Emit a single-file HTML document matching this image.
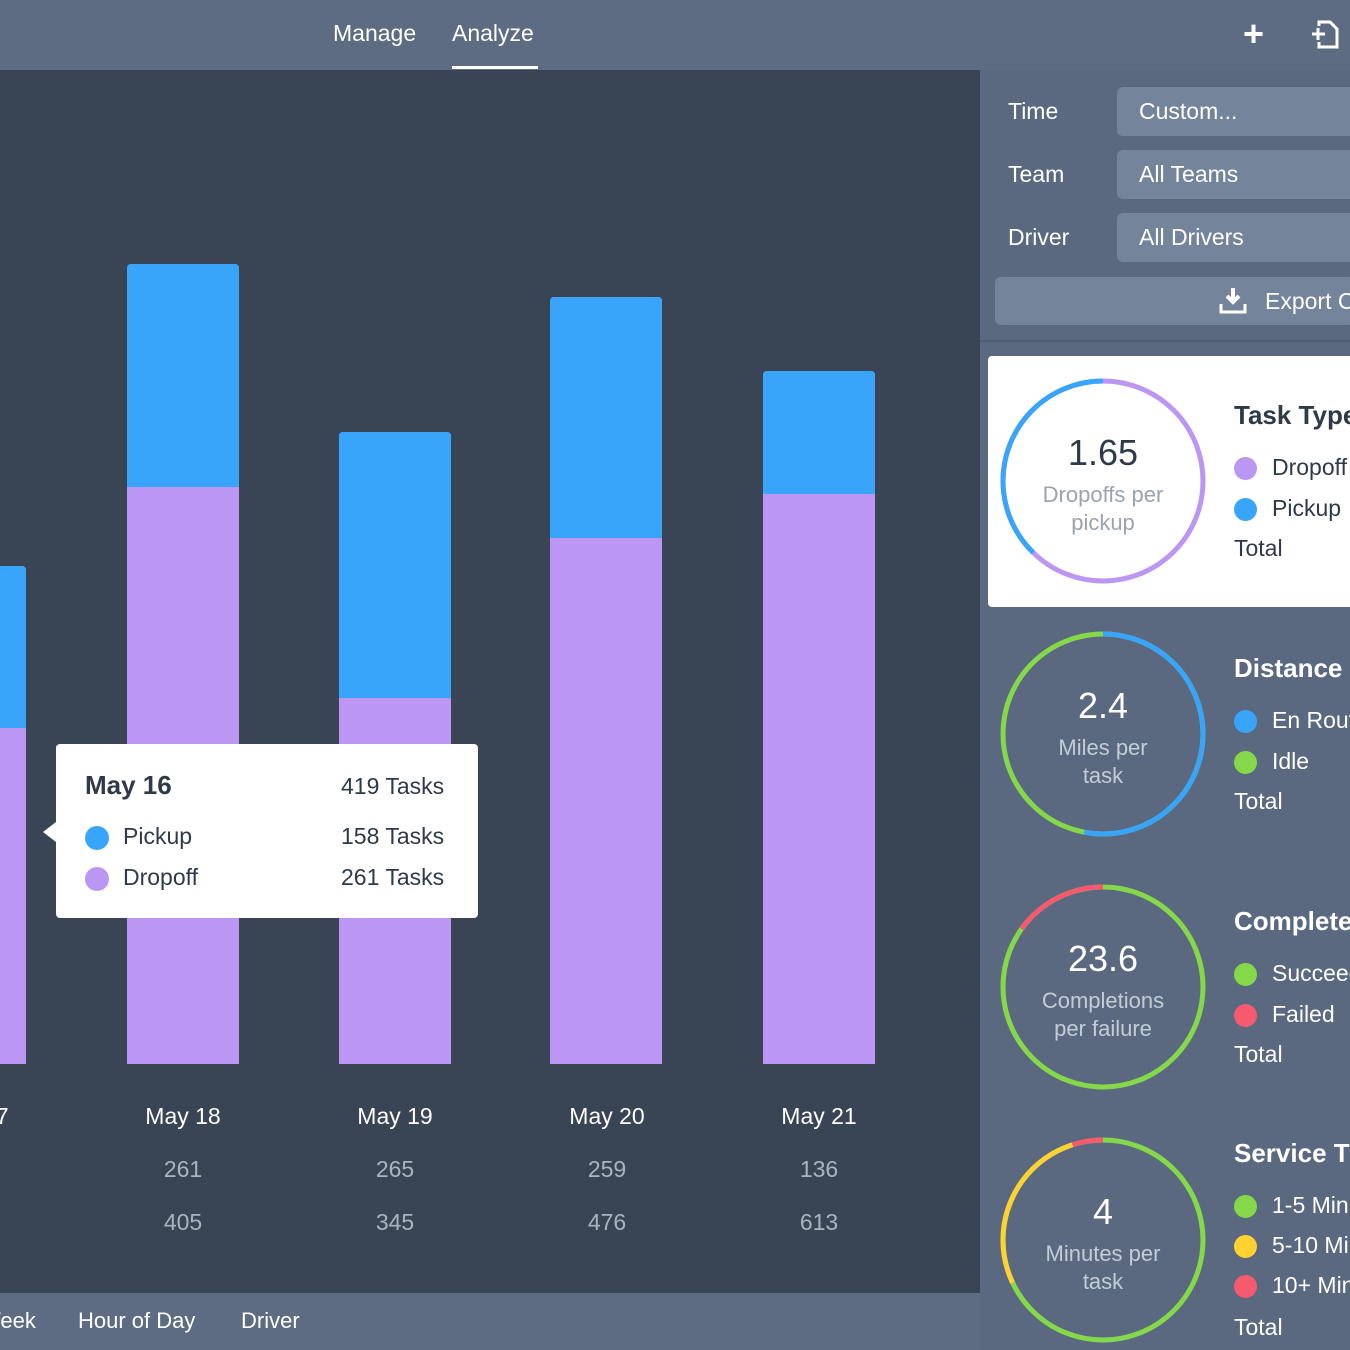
<!DOCTYPE html>
<html><head><meta charset="utf-8"><style>
*{margin:0;padding:0;box-sizing:border-box}
body{width:1350px;height:1350px;overflow:hidden;position:relative;background:#394554;font-family:"Liberation Sans",sans-serif;}
.a{position:absolute;white-space:nowrap}
.bar{position:absolute;width:112px;border-radius:4px 4px 0 0;overflow:hidden}
.lbl{position:absolute;width:140px;text-align:center;font-size:23px}
.dot{position:absolute;width:24px;height:24px;border-radius:50%}
.sel{position:absolute;left:1117px;width:240px;height:49px;background:#74849b;border-radius:6px;color:#fff;font-size:23px;padding:11px 0 0 22px;white-space:nowrap}
.rl{position:absolute;left:1008px;color:#fff;font-size:23px}
.ttl{position:absolute;left:1234px;font-size:26px;font-weight:bold;color:#fff;white-space:nowrap}
.li{position:absolute;left:1272px;font-size:23px;color:#fff;white-space:nowrap}
.ld{position:absolute;left:1234px;width:23px;height:23px;border-radius:50%}
.big{position:absolute;left:1003px;width:200px;text-align:center;font-size:36px;color:#fff}
.sub{position:absolute;left:1003px;width:200px;text-align:center;font-size:22px;line-height:28px;color:#c3ccd7}
</style></head><body>
<div class="a" style="left:0;top:0;width:1350px;height:70px;background:#5d6c83"></div>
<div class="a" style="left:333px;top:20px;color:#fff;font-size:23px">Manage</div>
<div class="a" style="left:452px;top:20px;color:#fff;font-size:23px">Analyze</div>
<div class="a" style="left:452px;top:66px;width:86px;height:3px;background:#fff"></div>
<div class="a" style="left:1243px;top:18px;color:#fff;font-size:36px;font-weight:bold;line-height:32px">+</div>
<svg class="a" style="left:1310px;top:20px" width="30" height="30" viewBox="0 0 30 30"><path d="M9 6 V2 H20 L27 9 V27 H9 V22" fill="none" stroke="#fff" stroke-width="3"/><path d="M2 14 H15 M8 8 V20" stroke="#fff" stroke-width="3"/></svg>

<div class="a" style="left:980px;top:70px;width:370px;height:1280px;background:#5a6980"></div>
<div class="a" style="left:980px;top:340px;width:370px;height:2px;background:#4f5d72"></div>
<div class="rl" style="top:98px">Time</div><div class="sel" style="top:87px">Custom...</div>
<div class="rl" style="top:161px">Team</div><div class="sel" style="top:150px">All Teams</div>
<div class="rl" style="top:224px">Driver</div><div class="sel" style="top:213px">All Drivers</div>
<div class="a" style="left:995px;top:277px;width:360px;height:48px;background:#74849b;border-radius:6px"></div>
<svg class="a" style="left:1218px;top:286px" width="30" height="30" viewBox="0 0 30 30"><path d="M15 2 V16 M9 10 L15 16 L21 10" fill="none" stroke="#fff" stroke-width="4"/><path d="M3 18 V26 H27 V18" fill="none" stroke="#fff" stroke-width="3"/></svg>
<div class="a" style="left:1265px;top:288px;color:#fff;font-size:23px">Export CSV</div>

<div class="a" style="left:988px;top:356px;width:370px;height:251px;background:#fff;border-radius:4px"></div>

<svg class="a" style="left:0;top:0" width="1350" height="1350">
<g fill="none" stroke-width="5">
 <circle cx="1103" cy="481" r="100" stroke="#bb96f3"/>
 <circle cx="1103" cy="481" r="100" stroke="#38a5fb" stroke-dasharray="237 392" stroke-dashoffset="-391" transform="rotate(-90 1103 481)"/>
 <circle cx="1103" cy="734" r="100" stroke="#84d84a"/>
 <circle cx="1103" cy="734" r="100" stroke="#38a5fb" stroke-dasharray="333 400" transform="rotate(-90 1103 734)"/>
 <circle cx="1103" cy="987" r="100" stroke="#84d84a"/>
 <circle cx="1103" cy="987" r="100" stroke="#f7596f" stroke-dasharray="95 600" stroke-dashoffset="-533" transform="rotate(-90 1103 987)"/>
 <circle cx="1103" cy="1240" r="100" stroke="#84d84a"/>
 <circle cx="1103" cy="1240" r="100" stroke="#fdd231" stroke-dasharray="170 600" stroke-dashoffset="-427" transform="rotate(-90 1103 1240)"/>
 <circle cx="1103" cy="1240" r="100" stroke="#f7596f" stroke-dasharray="34 600" stroke-dashoffset="-597" transform="rotate(-90 1103 1240)"/>
</g></svg>

<div class="big" style="top:432px;color:#2f3a48">1.65</div>
<div class="sub" style="top:481px;color:#9aa3ae">Dropoffs per<br>pickup</div>
<div class="big" style="top:685px">2.4</div>
<div class="sub" style="top:734px">Miles per<br>task</div>
<div class="big" style="top:938px">23.6</div>
<div class="sub" style="top:987px">Completions<br>per failure</div>
<div class="big" style="top:1191px">4</div>
<div class="sub" style="top:1240px">Minutes per<br>task</div>

<div class="ttl" style="top:400px;color:#2f3a48">Task Type</div>
<div class="ld" style="top:457px;background:#bb96f3"></div><div class="li" style="top:454px;color:#2f3a48">Dropoff</div>
<div class="ld" style="top:498px;background:#38a5fb"></div><div class="li" style="top:495px;color:#2f3a48">Pickup</div>
<div class="li" style="left:1234px;top:535px;color:#2f3a48">Total</div>

<div class="ttl" style="top:653px">Distance</div>
<div class="ld" style="top:710px;background:#38a5fb"></div><div class="li" style="top:707px">En Route</div>
<div class="ld" style="top:751px;background:#84d84a"></div><div class="li" style="top:748px">Idle</div>
<div class="li" style="left:1234px;top:788px">Total</div>

<div class="ttl" style="top:906px">Completed</div>
<div class="ld" style="top:963px;background:#84d84a"></div><div class="li" style="top:960px">Succeeded</div>
<div class="ld" style="top:1004px;background:#f7596f"></div><div class="li" style="top:1001px">Failed</div>
<div class="li" style="left:1234px;top:1041px">Total</div>

<div class="ttl" style="top:1138px">Service Time</div>
<div class="ld" style="top:1195px;background:#84d84a"></div><div class="li" style="top:1192px">1-5 Minutes</div>
<div class="ld" style="top:1235px;background:#fdd231"></div><div class="li" style="top:1232px">5-10 Minutes</div>
<div class="ld" style="top:1275px;background:#f7596f"></div><div class="li" style="top:1272px">10+ Minutes</div>
<div class="li" style="left:1234px;top:1314px">Total</div>

<div class="bar" style="left:-86px;top:566px;height:498px;background:#bb96f3"><div style="height:162px;background:#38a5fb"></div></div>
<div class="bar" style="left:127px;top:264px;height:800px;background:#bb96f3"><div style="height:223px;background:#38a5fb"></div></div>
<div class="bar" style="left:339px;top:432px;height:632px;background:#bb96f3"><div style="height:266px;background:#38a5fb"></div></div>
<div class="bar" style="left:550px;top:297px;height:767px;background:#bb96f3"><div style="height:241px;background:#38a5fb"></div></div>
<div class="bar" style="left:763px;top:371px;height:693px;background:#bb96f3"><div style="height:123px;background:#38a5fb"></div></div>

<div class="lbl" style="left:-99px;top:1103px;color:#fff">May 17</div>
<div class="lbl" style="left:113px;top:1103px;color:#fff">May 18</div>
<div class="lbl" style="left:325px;top:1103px;color:#fff">May 19</div>
<div class="lbl" style="left:537px;top:1103px;color:#fff">May 20</div>
<div class="lbl" style="left:749px;top:1103px;color:#fff">May 21</div>
<div class="lbl" style="left:113px;top:1156px;color:#aab4c0">261</div>
<div class="lbl" style="left:325px;top:1156px;color:#aab4c0">265</div>
<div class="lbl" style="left:537px;top:1156px;color:#aab4c0">259</div>
<div class="lbl" style="left:749px;top:1156px;color:#aab4c0">136</div>
<div class="lbl" style="left:113px;top:1209px;color:#aab4c0">405</div>
<div class="lbl" style="left:325px;top:1209px;color:#aab4c0">345</div>
<div class="lbl" style="left:537px;top:1209px;color:#aab4c0">476</div>
<div class="lbl" style="left:749px;top:1209px;color:#aab4c0">613</div>

<div class="a" style="left:56px;top:744px;width:422px;height:174px;background:#fff;border-radius:4px"></div>
<div class="a" style="left:43px;top:822px;width:0;height:0;border-top:10px solid transparent;border-bottom:10px solid transparent;border-right:13px solid #fff"></div>
<div class="a" style="left:85px;top:770px;font-size:26px;font-weight:bold;color:#2f3a48">May 16</div>
<div class="a" style="left:341px;top:773px;font-size:23px;color:#2f3a48">419 Tasks</div>
<div class="dot" style="left:85px;top:826px;background:#38a5fb"></div>
<div class="a" style="left:123px;top:823px;font-size:23px;color:#2f3a48">Pickup</div>
<div class="a" style="left:341px;top:823px;font-size:23px;color:#2f3a48">158 Tasks</div>
<div class="dot" style="left:85px;top:867px;background:#bb96f3"></div>
<div class="a" style="left:123px;top:864px;font-size:23px;color:#2f3a48">Dropoff</div>
<div class="a" style="left:341px;top:864px;font-size:23px;color:#2f3a48">261 Tasks</div>

<div class="a" style="left:0;top:1293px;width:980px;height:57px;background:#5d6c83"></div>
<div class="a" style="left:-20px;top:1308px;color:#fff;font-size:22px">Week</div>
<div class="a" style="left:78px;top:1308px;color:#fff;font-size:22px">Hour of Day</div>
<div class="a" style="left:241px;top:1308px;color:#fff;font-size:22px">Driver</div>
</body></html>
